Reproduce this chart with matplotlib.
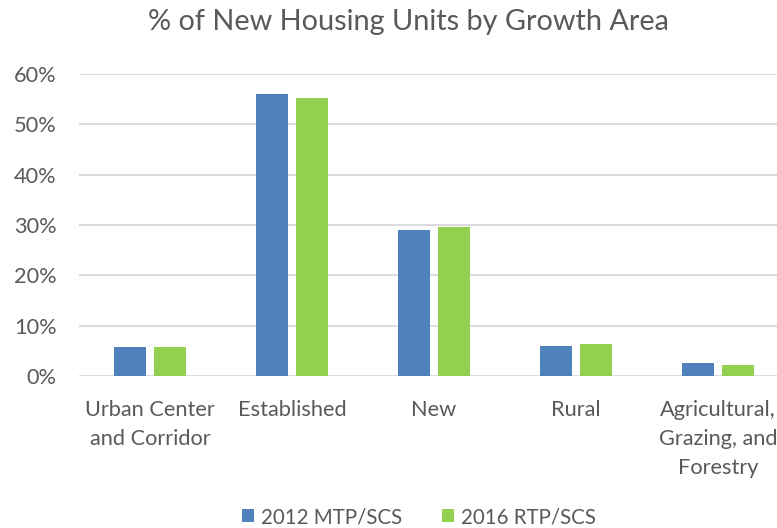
import matplotlib
matplotlib.use("Agg")
import matplotlib.pyplot as plt
import numpy as np
from matplotlib.ticker import PercentFormatter

categories = ["Urban Center\nand Corridor", "Established", "New", "Rural",
              "Agricultural,\nGrazing, and\nForestry"]
mtp_2012 = [5.7, 56.0, 29.1, 6.0, 2.6]
rtp_2016 = [5.7, 55.2, 29.7, 6.3, 2.2]
series_names = ["2012 MTP/SCS", "2016 RTP/SCS"]
yticks = [0, 10, 20, 30, 40, 50, 60]

plt.rcParams['font.family'] = ['Lato', 'DejaVu Sans']
text_color = "#595959"

fig = plt.figure(figsize=(7.77, 5.28), dpi=100)
ax = fig.add_axes([79/777, 1-376/528, 710/777, (376-74)/528])

x = np.arange(len(categories))
w = 0.225
off = 0.143
ax.bar(x - off, mtp_2012, w, color="#4f81bd", label=series_names[0], zorder=3)
ax.bar(x + off, rtp_2016, w, color="#92d050", label=series_names[1], zorder=3)

ax.set_xlim(-0.5, len(categories) - 0.5)
ax.set_ylim(0, 60)
ax.set_yticks(yticks)
ax.yaxis.set_major_formatter(PercentFormatter(decimals=0))
ax.grid(axis="y", color="#d9d9d9", linewidth=1.3, zorder=0)
for s in ax.spines.values():
    s.set_visible(False)
ax.tick_params(length=0, labelsize=15.7, colors=text_color)
ax.tick_params(axis="y", pad=16)
ax.set_xticks(x)
ax.set_xticklabels(categories, linespacing=1.56, va="top")
ax.tick_params(axis="x", pad=17)

fig.text(408/777, 1-22/528, "% of New Housing Units by Growth Area",
         ha="center", va="center", fontsize=20.8, color=text_color)

leg = fig.legend(loc="center", bbox_to_anchor=(419/777, 1-517/528), ncol=2,
                 frameon=False, fontsize=14.8, handlelength=0.6, handleheight=0.6,
                 columnspacing=1.9, handletextpad=0.35)
for t in leg.get_texts():
    t.set_color(text_color)

fig.savefig("out.png", dpi=100)
